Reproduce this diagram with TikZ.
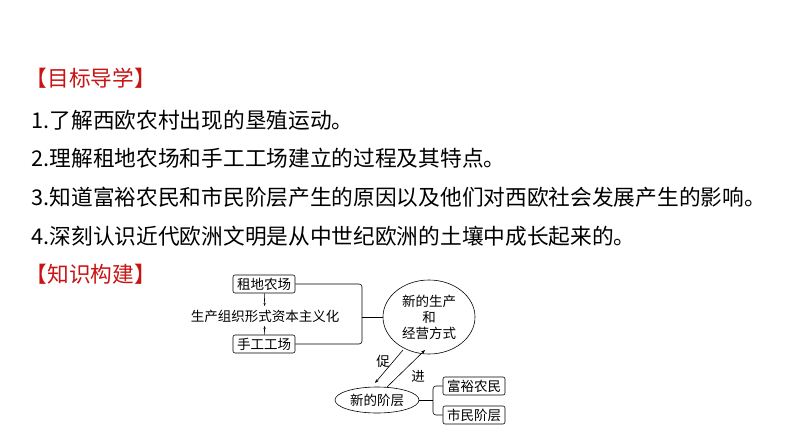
\documentclass[tikz,border=0pt]{standalone}
\usepackage{fontspec}
\newfontfamily\cjk{Noto Sans CJK SC}
\usetikzlibrary{arrows.meta}
\tikzset{every picture/.style={line width=0.6pt}}
\tikzset{
  line/.style={font=\cjk\fontsize{21.7}{22}\selectfont, anchor=west},
  head/.style={line, text={rgb,255:red,200;green,20;blue,20}},
  rbox/.style={draw, rounded corners=2pt, font=\cjk\fontsize{13.5}{14}\selectfont, inner sep=2pt, minimum height=18pt},
  lab/.style={font=\cjk\fontsize{13.5}{16}\selectfont}
}
\begin{document}
\begin{tikzpicture}[x=1pt,y=1pt,yscale=-1,xscale=1]
    \useasboundingbox (0,0) rectangle (794,447);
    \node[head] (t1) at (22,78) {【目标导学】};
    \node[line] (l1) at (28,120) {1.了解西欧农村出现的垦殖运动。};
    \node[line] (l2) at (28,158) {2.理解租地农场和手工工场建立的过程及其特点。};
    \node[line] (l3) at (28,197) {3.知道富裕农民和市民阶层产生的原因以及他们对西欧社会发展产生的影响。};
    \node[line] (l4) at (28,236) {4.深刻认识近代欧洲文明是从中世纪欧洲的土壤中成长起来的。};
    \node[head] (t2) at (22,274) {【知识构建】};
    % left part
    \node[rbox, minimum width=62pt] (farm) at (264,284) {租地农场};
    \node[lab] (cap) at (265,316) {生产组织形式资本主义化};
    \node[rbox, minimum width=62pt] (shop) at (264,344) {手工工场};
    \draw[-{Stealth[length=3pt]}] (farm) -- (cap);
    \draw[-{Stealth[length=3pt]}] (shop) -- (cap);
    % big ellipse
    \draw (429,317) ellipse (46 and 37);
    \node[lab, align=center] (mode) at (429,317) {新的生产\\和\\经营方式};
    \coordinate (ml) at (383,317);
    \draw[rounded corners=3pt] (farm.east) -- (362,284) -- (362,344) -- (shop.east);
    \draw (362,317) -- (ml);
    % small ellipse
    \draw (377,400) ellipse (42 and 13);
    \node[lab] (cls) at (377,400) {新的阶层};
    \coordinate (a1) at (403,350);
    \coordinate (a2) at (375,383);
    \coordinate (b1) at (387,387);
    \coordinate (b2) at (425,350);
    \draw[-{Stealth[length=4pt]}] (a1) -- (a2);
    \draw[-{Stealth[length=4pt]}] (b1) -- (b2);
    \node[lab] (cu) at (383,361) {促};
    \node[lab] (jin) at (418,376) {进};
    % right part
    \node[rbox, minimum width=62pt] (rich) at (474,386) {富裕农民};
    \node[rbox, minimum width=62pt] (city) at (474,415) {市民阶层};
    \coordinate (cr) at (419,400);
    \draw (cr) -- (433,400);
    \draw[rounded corners=3pt] (rich.west) -- (433,386) -- (433,415) -- (city.west);
\end{tikzpicture}
\end{document}
